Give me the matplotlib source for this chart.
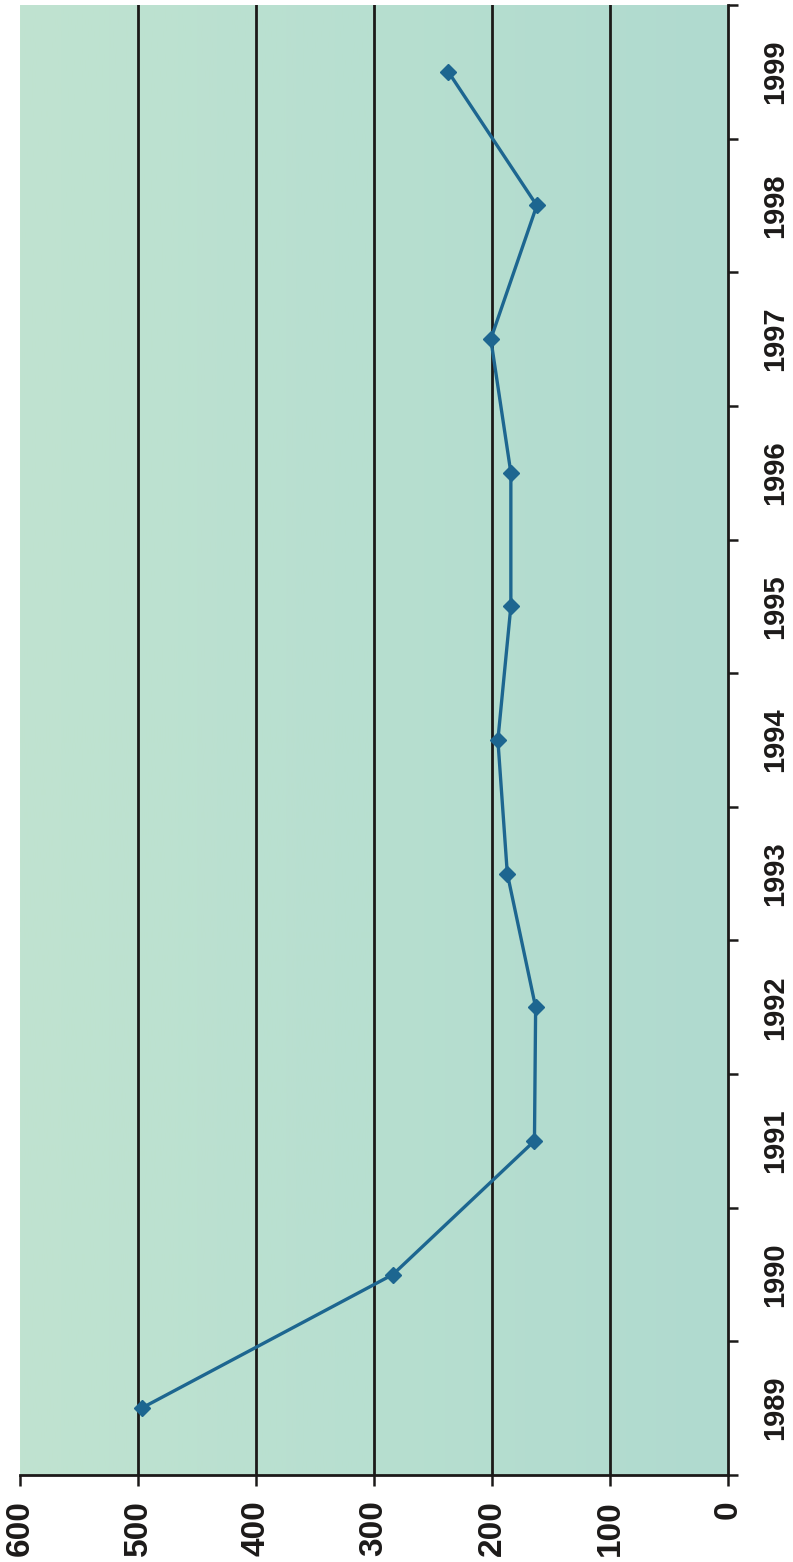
#!/usr/bin/env python3
import numpy as np
import matplotlib
matplotlib.use("Agg")
import matplotlib.pyplot as plt
from matplotlib.colors import LinearSegmentedColormap

years = ["1989", "1990", "1991", "1992", "1993", "1994",
         "1995", "1996", "1997", "1998", "1999"]
values = [497, 284, 164, 163, 187, 195, 184, 184, 201, 162, 237]
value_ticks = [0, 100, 200, 300, 400, 500, 600]

FONT = ["Liberation Sans Narrow", "Liberation Sans", "DejaVu Sans"]
INK = "#1c1a19"
LINE = "#1d6690"

fig = plt.figure(figsize=(7.93, 15.62), dpi=100)
ax = fig.add_axes([0.0252, 0.0557, 0.8928, 0.9411])

# pale mint backdrop, a touch more teal towards the zero side
bg = LinearSegmentedColormap.from_list("bg", ["#c0e3d0", "#b7dfd0", "#b0dacf"])
ax.imshow(np.linspace(0, 1, 256)[None, :], cmap=bg, aspect="auto",
          extent=(600, 0, -0.5, len(years) - 0.5), zorder=0)

# chart is laid out sideways: values run right-to-left, years bottom-to-top
pos = np.arange(len(years))
for v in value_ticks[1:-1]:
    ax.axvline(v, color=INK, lw=2.0, zorder=1)
ax.plot(values, pos, color=LINE, lw=2.4, marker="D", markersize=8.5,
        markeredgecolor=LINE, zorder=3)

ax.set_xlim(600, 0)
ax.set_ylim(-0.5, len(years) - 0.5)

ax.set_xticks(value_ticks)
ax.set_xticklabels([str(v) for v in value_ticks], rotation=90,
                   fontsize=24, fontweight="bold", family=FONT, color=INK)
ax.tick_params(axis="x", direction="out", length=8, width=1.8,
               color=INK, pad=10)

ax.yaxis.tick_right()
ax.set_yticks(pos)
ax.set_yticklabels(years, rotation=90, va="center", fontsize=21,
                   fontweight="bold", family=FONT, color=INK)
ax.set_yticks(np.arange(len(years) + 1) - 0.5, minor=True)
ax.tick_params(axis="y", which="major", length=0, pad=24)
ax.tick_params(axis="y", which="minor", direction="out", length=7.5,
               width=1.8, color=INK)

for side in ("left", "top"):
    ax.spines[side].set_visible(False)
for side in ("right", "bottom"):
    ax.spines[side].set_color(INK)
    ax.spines[side].set_linewidth(2.0)

fig.savefig("out.png", dpi=100, facecolor="white")
